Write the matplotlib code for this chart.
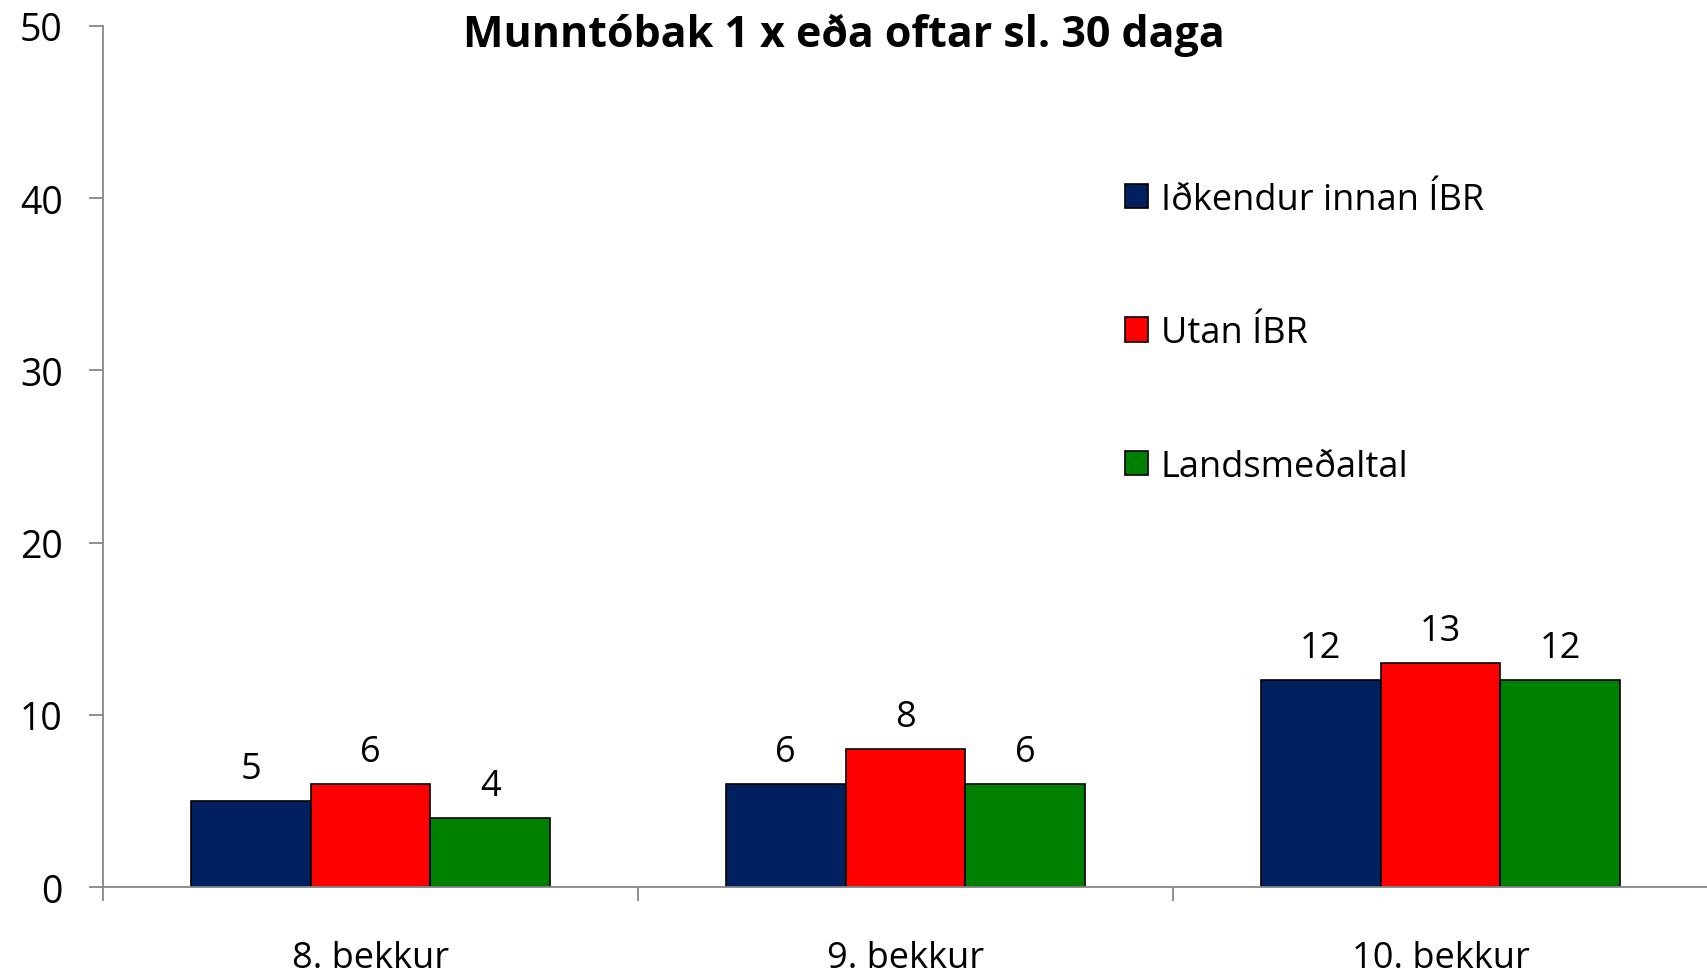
import numpy as np
import matplotlib
matplotlib.use("Agg")
import matplotlib.pyplot as plt
from matplotlib.patches import Patch

# data
categories = ["8. bekkur", "9. bekkur", "10. bekkur"]
series_names = ["Iðkendur innan ÍBR", "Utan ÍBR", "Landsmeðaltal"]
idkendur = [5, 6, 12]
utan = [6, 8, 13]
landsmedaltal = [4, 6, 12]
colors = ["#002060", "#FF0000", "#008000"]
title = "Munntóbak 1 x eða oftar sl. 30 daga"

plt.rcParams["font.family"] = ["Open Sans", "DejaVu Sans"]
axis_grey = "#868686"
fs = 26

fig = plt.figure(figsize=(17.08, 9.78), dpi=100)
ax = fig.add_axes([0.0603, 0.092, 0.9397, 0.8804])

x = np.arange(len(categories)) + 0.5
width = 0.224
all_series = [idkendur, utan, landsmedaltal]
for i, (vals, col) in enumerate(zip(all_series, colors)):
    bars = ax.bar(x + (i - 1) * width, vals, width, color=col,
                  edgecolor="black", linewidth=1.2, zorder=3)
    ax.bar_label(bars, labels=[str(v) for v in vals], padding=10, fontsize=fs)

ax.set_xlim(0, 3)
ax.set_ylim(0, 50)
ax.set_yticks([0, 10, 20, 30, 40, 50])

# category boundaries as major ticks, names on minor ticks
ax.set_xticks([0, 1, 2, 3])
ax.set_xticklabels([])
ax.set_xticks(x, minor=True)
ax.set_xticklabels(categories, minor=True)
ax.tick_params(axis="x", which="major", length=10, width=1.3, color=axis_grey, direction="out")
ax.tick_params(axis="x", which="minor", length=0, pad=38, labelsize=fs)
ax.tick_params(axis="y", length=10, width=1.3, color=axis_grey, pad=19, labelsize=fs + 1)

for side in ["top", "right"]:
    ax.spines[side].set_visible(False)
for side in ["left", "bottom"]:
    ax.spines[side].set_color(axis_grey)
    ax.spines[side].set_linewidth(1.3)
ax.spines["bottom"].set_zorder(4)

fig.text(0.494, 0.964, title, ha="center", va="center",
         fontsize=31, fontweight="bold")

handles = [Patch(facecolor=c, edgecolor="black", linewidth=1.2) for c in colors]
fig.legend(handles, series_names, loc="upper left", bbox_to_anchor=(0.65, 0.828),
           frameon=False, fontsize=fs, handlelength=0.65, handleheight=0.65,
           handletextpad=0.35, labelspacing=2.7, borderaxespad=0)

fig.savefig("out.png", dpi=100)
